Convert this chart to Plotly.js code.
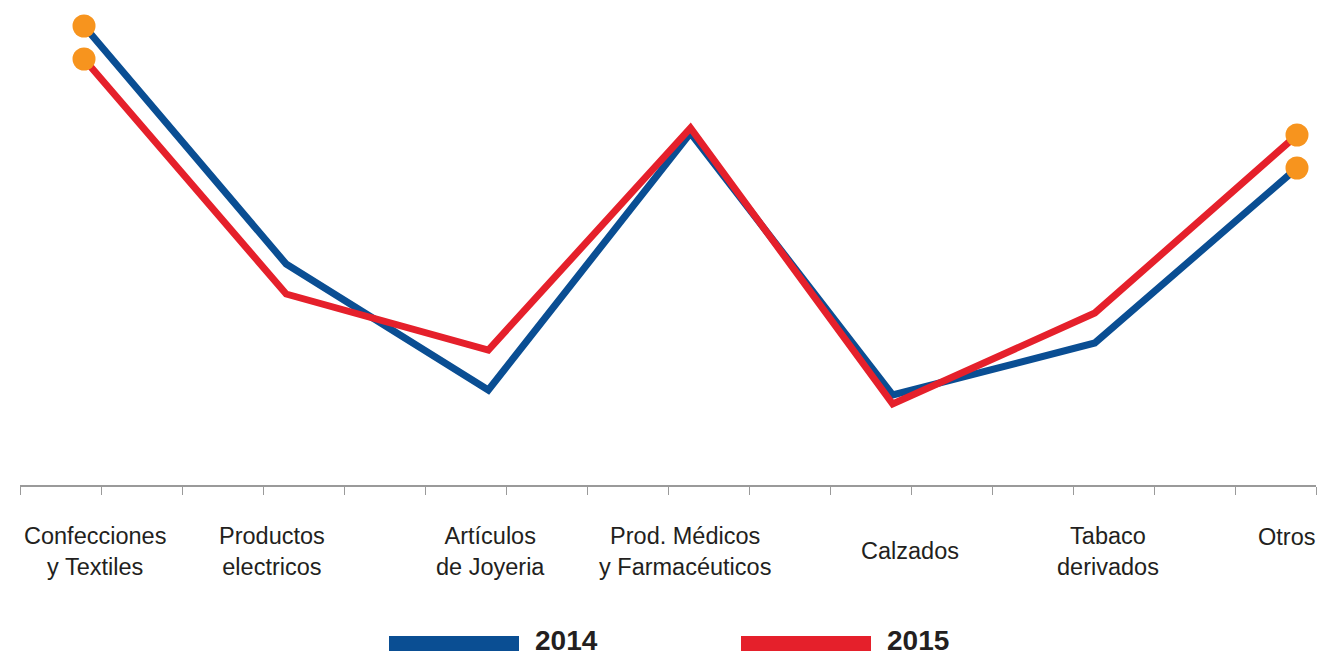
<!DOCTYPE html>
<html>
<head>
<meta charset="utf-8">
<script src="https://cdn.plot.ly/plotly-3.0.1.min.js"></script>
<style>html,body{margin:0;padding:0;background:#fff;}#chart{width:1317px;height:657px;}</style>
</head>
<body>
<div id="chart"></div>
<script>
// ---- data ----
const categories = [
  "Confecciones<br>y Textiles",
  "Productos<br>electricos",
  "Artículos<br>de Joyeria",
  "Prod. Médicos<br>y Farmacéuticos",
  "Calzados",
  "Tabaco<br>derivados",
  "Otros"
];
const seriesNames = ["2014", "2015"];
const values2014 = [45.9, 22.1, 9.5, 35.2, 9.0, 14.2, 31.7];
const values2015 = [42.6, 19.1, 13.5, 35.7, 8.1, 17.2, 35.0];

// ---- style ----
const BLUE = "#0A4E93", RED = "#E5202B", ORANGE = "#F7941E", TEXT = "#231F20", AXIS = "#9A9A9A";
const labelXShift = [11, -14, 2, -6, 17, 13, -11];
const labelYShift = [-66, -66, -66, -66, -66, -66, -52];

const xIdx = categories.map((_, i) => i);
const endIdx = [0, categories.length - 1];

function lineTrace(name, vals, color) {
  return {
    type: "scatter", mode: "lines", name: name,
    x: xIdx, y: vals,
    line: {color: color, width: 7, shape: "linear"},
    hoverinfo: "skip", cliponaxis: false, showlegend: false
  };
}
function dotTrace(vals) {
  return {
    type: "scatter", mode: "markers",
    x: endIdx.map(i => xIdx[i]), y: endIdx.map(i => vals[i]),
    marker: {color: ORANGE, size: 23, line: {width: 0}},
    hoverinfo: "skip", cliponaxis: false, showlegend: false
  };
}

const traces = [
  lineTrace(seriesNames[0], values2014, BLUE),
  lineTrace(seriesNames[1], values2015, RED),
  dotTrace(values2014),
  dotTrace(values2015)
];

// x axis geometry: 16 tick intervals over axis length
const xRange = [-0.3166, 6.094];
const dtick = (xRange[1] - xRange[0]) / 16;

const annotations = categories.map((c, i) => ({
  x: xIdx[i], xref: "x", y: 0, yref: "paper",
  text: c, showarrow: false, xanchor: "center", yanchor: "middle",
  xshift: labelXShift[i], yshift: labelYShift[i],
  align: "center",
  font: {family: "Liberation Sans, Arial, sans-serif", size: 23.5, color: TEXT}
}));

// custom legend (long swatches)
const legendColors = [BLUE, RED];
const legendX0 = [389, 741], legendW = 130, plotW = 1296, plotL = 20, plotH = 485;
const shapes = [];
seriesNames.forEach((n, k) => {
  const x0 = (legendX0[k] - plotL) / plotW, x1 = (legendX0[k] + legendW - plotL) / plotW;
  shapes.push({type: "rect", xref: "paper", yref: "paper",
    x0: x0, x1: x1, y0: (485 - 636) / plotH, y1: (485 - 651) / plotH,
    fillcolor: legendColors[k], line: {width: 0}});
  annotations.push({
    x: (legendX0[k] + legendW + 14 - plotL) / plotW, xref: "paper",
    y: (485 - 640) / plotH, yref: "paper",
    text: "<b>" + n + "</b>", showarrow: false, xanchor: "left", yanchor: "middle",
    font: {family: "Liberation Sans, Arial, sans-serif", size: 28, color: TEXT}
  });
});

const layout = {
  width: 1317, height: 657,
  margin: {l: 20, r: 1, t: 0, b: 172},
  paper_bgcolor: "#fff", plot_bgcolor: "#fff",
  showlegend: false,
  xaxis: {
    range: xRange, showgrid: false, zeroline: false,
    showline: true, linecolor: AXIS, linewidth: 1.5,
    ticks: "outside", ticklen: 8, tickwidth: 1, tickcolor: AXIS,
    tickmode: "linear", tick0: xRange[0], dtick: dtick,
    showticklabels: false, fixedrange: true
  },
  yaxis: {range: [0, 48.5], visible: false, fixedrange: true},
  annotations: annotations,
  shapes: shapes
};

Plotly.newPlot("chart", traces, layout, {displayModeBar: false, staticPlot: true});
</script>
</body>
</html>
